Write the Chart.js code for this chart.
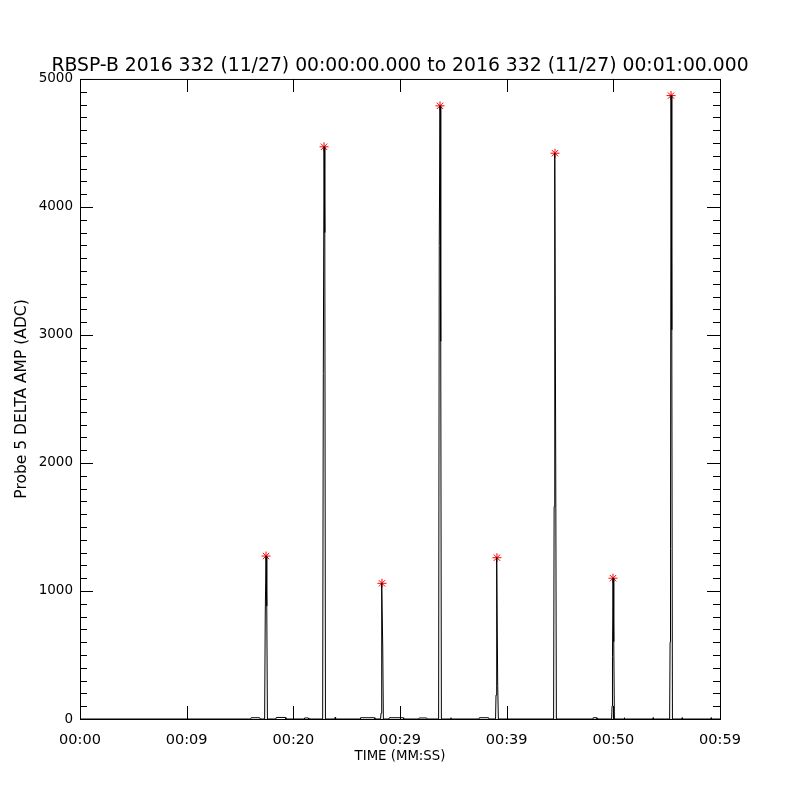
<!DOCTYPE html>
<html>
<head>
<meta charset="utf-8">
<script src="https://cdn.jsdelivr.net/npm/chart.js@4"></script>
<style>
  body { margin: 0; background: #fff; }
  #wrap { width: 800px; height: 800px; }
</style>
</head>
<body>
<div id="wrap"><canvas id="ampChart" width="800" height="800"></canvas></div>
<script>
// time in seconds after 00:00:00, amplitude in ADC counts
const timeSec = [
    0.0, 16.0, 16.05, 16.85, 16.9, 17.31, 17.37, 17.44, 17.51, 17.57,
    18.35, 18.4, 19.25, 19.3, 21.0, 21.05, 21.4, 21.45,
    22.75, 22.81, 22.88, 22.95, 23.01, 23.9, 23.93, 23.96,
    26.25, 26.3, 27.6, 27.65, 28.18, 28.22, 28.26, 28.31, 28.38, 28.44,
    28.95, 29.0, 30.3, 30.35, 31.75, 31.8, 32.5, 32.55,
    33.62, 33.68, 33.75, 33.82, 33.88, 34.75, 34.78, 34.81,
    37.4, 37.45, 38.3, 38.35, 38.96, 39.0, 39.04, 39.09, 39.16, 39.22,
    44.4, 44.45, 44.49, 44.53, 44.6, 44.66,
    48.08, 48.12, 48.42, 48.46, 49.84, 49.88, 49.92, 49.97, 50.04, 50.1,
    51.0, 51.03, 51.06, 53.7, 53.73, 53.76,
    55.28, 55.32, 55.36, 55.41, 55.48, 55.54,
    56.42, 56.45, 56.48, 59.14, 59.17, 59.2, 60.0
];
const ampAdc = [
    0, 0, 10, 10, 0, 0, 836, 1273, 883, 0,
    0, 12, 12, 0, 0, 8, 8, 0,
    0, 2700, 4470, 3800, 0, 0, 15, 0,
    0, 10, 10, 0, 0, 45, 984, 1060, 570, 0,
    0, 10, 10, 0, 0, 8, 8, 0,
    0, 3700, 4790, 2950, 0, 0, 10, 0,
    0, 10, 10, 0, 0, 187, 890, 1260, 260, 0,
    0, 1660, 3830, 4420, 2000, 0,
    0, 10, 10, 0, 0, 100, 486, 1100, 604, 0,
    0, 10, 0, 0, 10, 0,
    0, 600, 1330, 4870, 3040, 0,
    0, 10, 0, 0, 10, 0, 0
];

// red asterisks at the burst maxima
const peakTimes = [17.44, 22.88, 28.31, 33.75, 39.09, 44.53, 49.97, 55.41];
const peakValues = [1273, 4470, 1060, 4790, 1260, 4420, 1100, 4870];

const xTickLabels = ['00:00', '00:09', '00:20', '00:29', '00:39', '00:50', '00:59'];

const chartTitle = 'RBSP-B 2016 332 (11/27) 00:00:00.000 to 2016 332 (11/27) 00:01:00.000';

Chart.defaults.font.family = "'DejaVu Sans', sans-serif";
Chart.defaults.color = '#000';

// IDL style box with inward ticks on all four sides
const frameTicks = {
    id: 'frameTicks',
    afterDatasetsDraw(chart) {
        const ctx = chart.ctx;
        const a = chart.chartArea;
        const x = chart.scales.x;
        const y = chart.scales.y;
        ctx.save();
        ctx.strokeStyle = '#000';
        ctx.lineWidth = 1;
        ctx.strokeRect(a.left + 0.5, a.top + 0.5, a.right - a.left, a.bottom - a.top);
        ctx.beginPath();
        for (let v = 0; v <= 5000; v += 100) {
            const py = Math.round(y.getPixelForValue(v)) + 0.5;
            const len = v % 1000 === 0 ? 13 : 7;
            ctx.moveTo(a.left, py); ctx.lineTo(a.left + len, py);
            ctx.moveTo(a.right, py); ctx.lineTo(a.right - len, py);
        }
        for (let t = 0; t <= 60; t += 10) {
            const px = Math.round(x.getPixelForValue(t)) + 0.5;
            ctx.moveTo(px, a.bottom); ctx.lineTo(px, a.bottom - 13);
            ctx.moveTo(px, a.top); ctx.lineTo(px, a.top + 13);
        }
        ctx.stroke();
        ctx.restore();
    }
};

new Chart('ampChart', {
    type: 'scatter',
    data: {
        datasets: [
            {
                label: 'amplitude',
                data: timeSec.map((t, i) => ({x: t, y: ampAdc[i]})),
                showLine: true,
                borderColor: '#000',
                borderWidth: 1,
                pointRadius: 0,
                tension: 0
            },
            {
                label: 'peaks',
                data: peakTimes.map((t, i) => ({x: t, y: peakValues[i]})),
                showLine: false,
                pointStyle: 'star',
                pointRadius: 4.5,
                borderColor: '#ff0000',
                backgroundColor: '#ff0000',
                borderWidth: 1
            }
        ]
    },
    options: {
        responsive: false,
        animation: false,
        layout: { padding: 0 },
        plugins: {
            legend: { display: false },
            tooltip: { enabled: false },
            title: {
                display: true,
                text: chartTitle,
                font: { size: 18.8, weight: 'normal' },
                padding: { top: 54.7, bottom: 1.7 }
            }
        },
        scales: {
            x: {
                type: 'linear',
                min: 0,
                max: 60,
                grid: { display: false, drawTicks: false },
                border: { display: false },
                ticks: {
                    stepSize: 10,
                    padding: 13,
                    maxRotation: 0,
                    font: { size: 14.5 },
                    callback: (v) => xTickLabels[Math.round(v / 10)]
                },
                title: {
                    display: true,
                    text: 'TIME (MM:SS)',
                    font: { size: 13.3 },
                    padding: { top: 0, bottom: 35 }
                },
                afterFit: (s) => { s.height = 81; }
            },
            y: {
                type: 'linear',
                min: 0,
                max: 5000,
                grid: { display: false, drawTicks: false },
                border: { display: false },
                ticks: {
                    stepSize: 1000,
                    padding: 7,
                    font: { size: 13.5 },
                    callback: (v) => String(v)
                },
                title: {
                    display: true,
                    text: 'Probe 5 DELTA AMP (ADC)',
                    font: { size: 15.5 },
                    padding: { top: 12.7, bottom: 0 }
                },
                afterFit: (s) => { s.width = 80; }
            },
            yRight: {
                type: 'linear',
                position: 'right',
                min: 0,
                max: 5000,
                grid: { display: false, drawTicks: false },
                border: { display: false },
                ticks: { display: false },
                afterFit: (s) => { s.width = 80; }
            }
        }
    },
    plugins: [frameTicks]
});
</script>
</body>
</html>
